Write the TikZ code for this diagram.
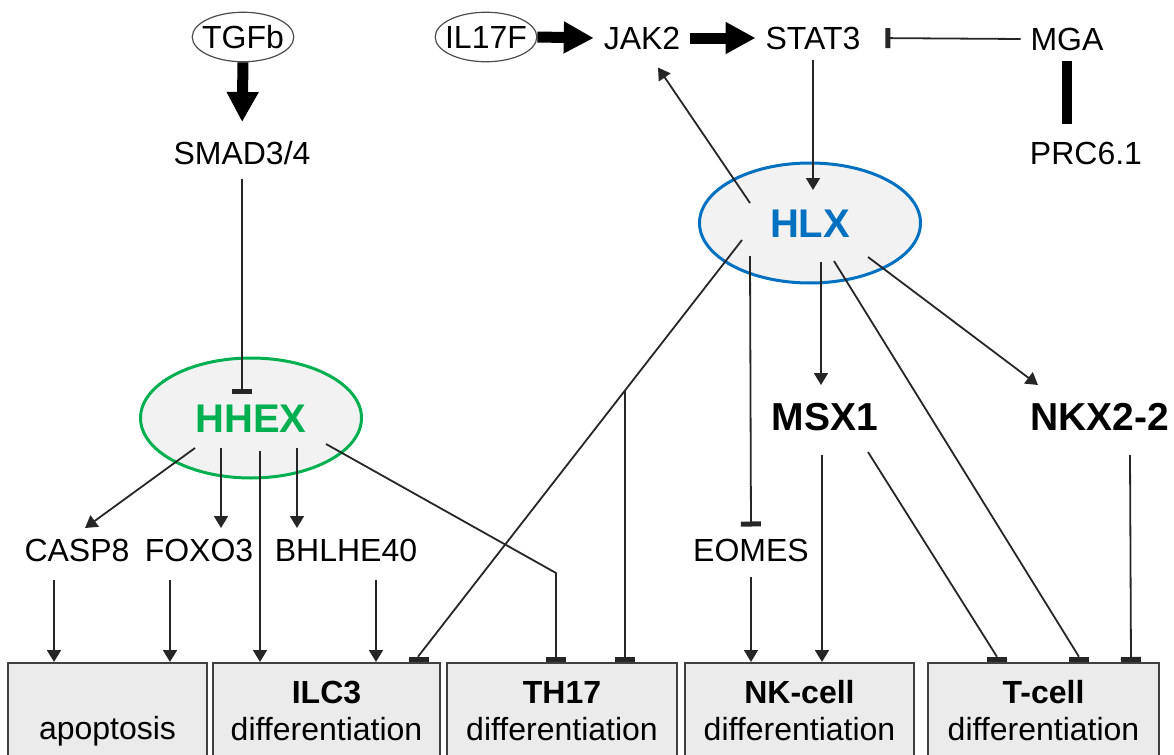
\documentclass[tikz,border=0pt]{standalone}
\usepackage{fontspec}
\setmainfont{Liberation Sans}
\usetikzlibrary{shapes.geometric,arrows.meta,calc,positioning}
\definecolor{hhexgreen}{RGB}{0,176,80}
\definecolor{hlxblue}{RGB}{0,112,192}
\definecolor{boxgray}{RGB}{235,235,235}
\definecolor{ellgray}{RGB}{242,242,242}

\begin{document}
\begin{tikzpicture}[%
x=0.5pt, y=-0.5pt,
font=\fontsize{16}{18.5}\selectfont,
gene/.style={inner sep=0pt, outer sep=5pt, text height=11.5pt, text depth=0pt},
biggene/.style={gene, font=\fontsize{19.5}{22}\selectfont\bfseries, text height=14pt},
ext/.style={ellipse, draw=black!70, line width=0.6pt, inner xsep=-2.5pt, inner ysep=3pt, text height=11.5pt, text depth=0pt},
hub/.style={ellipse, fill=ellgray, line width=1.5pt, minimum width=110.5pt, minimum height=60pt, font=\fontsize{20}{22}\selectfont\bfseries, text height=14.3pt, text depth=0pt},
fate/.style={rectangle, draw=black!75, fill=boxgray, line width=1pt, minimum height=48pt, align=center, inner sep=0pt},
act/.style={-{Triangle[width=7pt,length=6pt]}, line width=0.9pt, black!85},
inh/.style={-{Rectangle[width=10pt,length=2.5pt]}, line width=0.9pt, black!85},
bigact/.style={-{Triangle[width=15pt,length=15pt]}, line width=5.5pt}
]
\useasboundingbox (0,0) rectangle (1174,755);

\node[ext] (tgfb) at (243,37) {TGFb};
\node[gene] (smad) at (242,153) {SMAD3/4};
\node[ext] (il17f) at (486,37) {IL17F};
\node[gene] (jak2) at (642,38) {JAK2};
\node[gene] (stat3) at (813,38) {STAT3};
\node[gene] (mga) at (1067,39) {MGA};
\node[gene] (prc) at (1086,153) {PRC6.1};
\node[hub, draw=hlxblue, text=hlxblue] (hlx) at (810,223) {HLX};
\node[hub, draw=hhexgreen, text=hhexgreen] (hhex) at (251,418) {HHEX};
\node[biggene] (msx1) at (825,416) {MSX1};
\node[biggene] (nkx) at (1100,416) {NKX2-2};
\node[gene] (casp8) at (77,550) {CASP8};
\node[gene] (foxo3) at (199,550) {FOXO3};
\node[gene] (bhlhe) at (346,550) {BHLHE40};
\node[gene] (eomes) at (751,550) {EOMES};

\node[fate, minimum width=99.5pt] (apop) at (107.5,711) {\strut\\apoptosis};
\node[fate, minimum width=113.5pt] (ilc3) at (326.5,711) {\textbf{ILC3}\\differentiation};
\node[fate, minimum width=115pt] (th17) at (562,711) {\textbf{TH17}\\differentiation};
\node[fate, minimum width=114.5pt] (nk) at (799.5,711) {\textbf{NK-cell}\\differentiation};
\node[fate, minimum width=115.5pt] (tcell) at (1043.5,711) {\textbf{T-cell}\\differentiation};

% top row
\draw[bigact, shorten >=4.75pt] (tgfb.south) -- (smad.north);
\draw[bigact] (il17f.east) -- (jak2.west);
\draw[bigact] (jak2.east) -- (stat3.west);
\draw[inh, shorten >=7.5pt] (mga.west) -- (stat3.east);
\draw[line width=5pt, shorten >=4pt] (mga.south) -- (mga.south |- prc.north);
\draw[act] (stat3.south) -- ($(hlx)+(3,-33)$);

% HLX targets
\draw[act] ($(hlx)+(-60,-20)$) -- ($(jak2.south)+(16,8)$);
\draw[inh] ($(hlx)+(-68,17)$) -- coordinate[pos=0.362] (split) ($(ilc3.north)+(92,-6)$) -- ($(ilc3.north)+(92,0)$);
\draw[inh] (split) -- (split |- th17.north);
\draw[inh, shorten >=1pt] ($(hlx)+(-60,33)$) -- (eomes.north);
\draw[act] ($(hlx)+(11,39)$) -- ($(msx1)+(-4,-31)$);
\draw[inh] ($(hlx)+(24,38)$) -- ($(tcell.north)+(35,-6)$) -- ($(tcell.north)+(35,0)$);
\draw[act] ($(hlx)+(58,34)$) -- ($(nkx)+(-62,-31)$);

% HHEX targets
\draw[inh] ($(smad)+(0,26)$) -- ($(hhex)+(-9,-24)$);
\draw[act] ($(hhex)+(-56,30)$) -- ($(casp8)+(8,-22)$);
\draw[act] ($(hhex)+(-30,30)$) -- ($(foxo3)+(22,-22)$);
\draw[act] ($(hhex)+(9,33)$) -- ($(ilc3.north)+(-66.5,0)$);
\draw[act] ($(hhex)+(46,30)$) -- ($(bhlhe)+(-49,-22)$);
\draw[inh] ($(hhex)+(75,26)$) -- ($(th17.north)+(-6,-89)$) -- ($(th17.north)+(-6,0)$);

% into the cell fates
\draw[act] ($(casp8)+(-23,30)$) -- ($(apop.north)+(-53.5,0)$);
\draw[act] ($(foxo3)+(-29,30)$) -- ($(apop.north)+(62.5,0)$);
\draw[act] ($(bhlhe)+(30,30)$) -- ($(ilc3.north)+(49.5,0)$);
\draw[act] ($(eomes)+(0,27)$) -- ($(nk.north)+(-48.5,0)$);
\draw[act] ($(msx1)+(-3,39)$) -- ($(nk.north)+(22.5,0)$);
\draw[inh] ($(msx1)+(43,36)$) -- ($(tcell.north)+(-47,-6)$) -- ($(tcell.north)+(-47,0)$);
\draw[inh] ($(nkx)+(30,39)$) -- ($(tcell.north)+(87.5,0)$);

\end{tikzpicture}
\end{document}
